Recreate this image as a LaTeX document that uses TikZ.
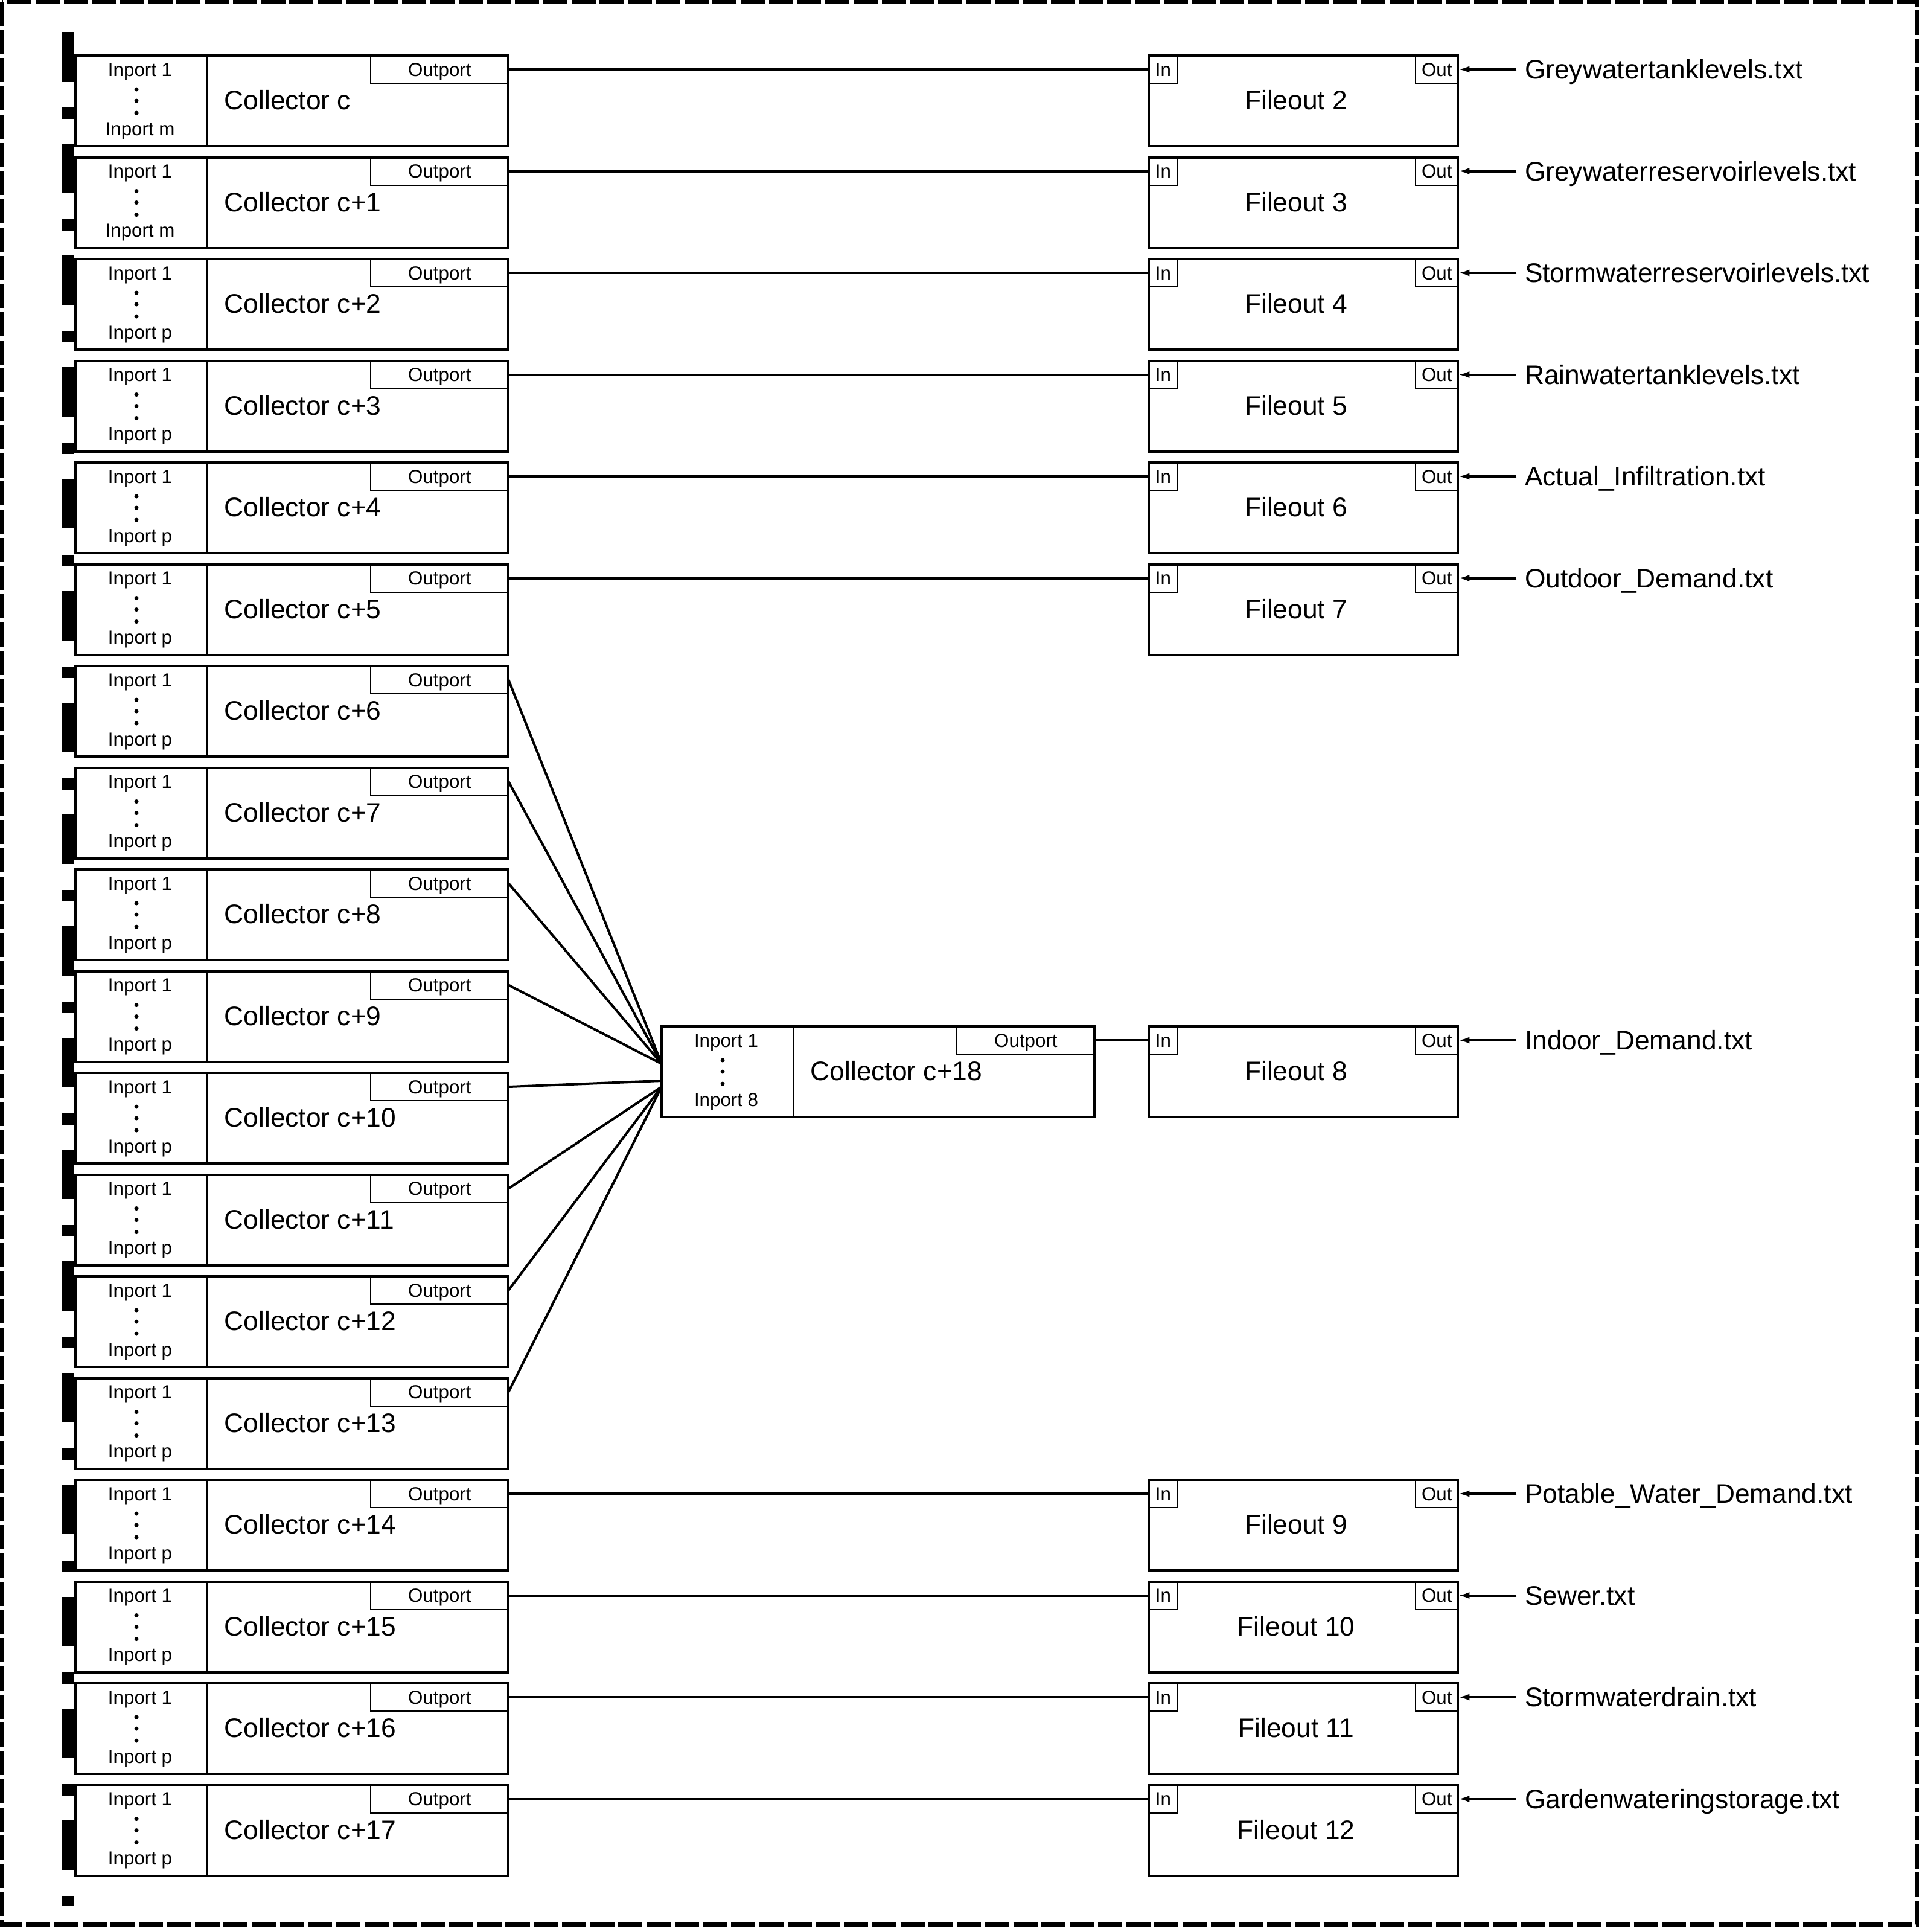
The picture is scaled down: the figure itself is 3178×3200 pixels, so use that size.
\documentclass[tikz,border=0pt]{standalone}
\usepackage{fontspec}
\setmainfont{Liberation Sans}
\usetikzlibrary{arrows.meta}
\usetikzlibrary{positioning}

\begin{document}
\begin{tikzpicture}[x=0.01cm, y=-0.01cm,
                smalltxt/.style={font=\fontsize{8.9}{10.5}\selectfont,
                    text height=0.224cm, text depth=0pt, inner sep=0pt},
                bigtxt/.style={font=\fontsize{12.6}{15}\selectfont,
                    text height=0.317cm, text depth=0pt, inner sep=0pt},
                blk/.style={draw, line width=0.04cm, rectangle,
                    minimum width=7.17cm, minimum height=1.5cm,
                    inner sep=0pt, outer sep=0pt, anchor=north west},
                fobox/.style={blk, minimum width=5.12cm},
                portbox/.style n args={2}{draw, line width=0.02cm, rectangle,
                    minimum width=#1, minimum height=0.46cm,
                    outer sep=0pt, anchor=#2, smalltxt},
                fname/.style={bigtxt, anchor=west, inner xsep=0.13cm},
                divline/.style={line width=0.02cm},
                wire/.style={line width=0.04cm}]
                \useasboundingbox (0,0) rectangle (3178,3200);
                \draw[line width=0.07cm, dash pattern=on 0.4cm off 0.067cm] (3,3) rectangle (3175,3187);
                \draw[line width=0.2cm, dash pattern=on 0.82cm off 0.43cm on 0.19cm off 0.41cm] (113,53) -- (113,3157);
                % collectors
                \foreach \i in {0,...,18}{
                    \ifnum\i=18
                        \def\colx{1096}\def\coly{1700}\def\lastin{8}
                    \else
                        \pgfmathsetmacro\coly{92+168.5*\i}\def\colx{125}
                        \ifnum\i<2 \def\lastin{m}\else\def\lastin{p}\fi
                    \fi
                    \ifnum\i=0 \def\colname{c}\else\def\colname{c+\i}\fi
                    \node[blk] (col\i) at (\colx,\coly) {};
                    \draw[divline] ([xshift=2.18cm]col\i.north west) -- ([xshift=2.18cm]col\i.south west);
                    \node[portbox={2.28cm}{north east}] (op\i) at (col\i.north east) {Outport};
                    \node[smalltxt] (ia\i) at ([xshift=1.07cm,yshift=-0.23cm]col\i.north west) {Inport 1};
                    \node[smalltxt] (ib\i) at ([xshift=1.07cm,yshift=-1.21cm]col\i.north west) {Inport \lastin};
                    \node[bigtxt, anchor=west] (ct\i) at ([xshift=2.46cm,yshift=-0.74cm]col\i.north west) {Collector \colname};
                    \foreach \d in {0.56,0.75,0.95}
                        \fill ([xshift=1.01cm,yshift=-\d cm]col\i.north west) circle (0.035cm);
                }
                % fileouts
                \foreach \num/\ytop/\src/\file in {2/92/op0/Greywatertanklevels.txt,
                    3/260.5/op1/Greywaterreservoirlevels.txt,
                    4/429/op2/Stormwaterreservoirlevels.txt,
                    5/597.5/op3/Rainwatertanklevels.txt,
                    6/766/op4/Actual\_Infiltration.txt,
                    7/934.5/op5/Outdoor\_Demand.txt,
                    8/1700/op18/Indoor\_Demand.txt,
                    9/2451/op14/Potable\_Water\_Demand.txt,
                    10/2619.5/op15/Sewer.txt,
                    11/2788/op16/Stormwaterdrain.txt,
                    12/2956.5/op17/Gardenwateringstorage.txt}{
                    \node[fobox] (fo\num) at (1903,\ytop) {};
                    \node[portbox={0.48cm}{north west}] (in\num) at (fo\num.north west) {In};
                    \node[portbox={0.70cm}{north east}] (out\num) at (fo\num.north east) {Out};
                    \node[bigtxt] (ft\num) at ([xshift=2.44cm,yshift=-0.74cm]fo\num.north west) {Fileout \num};
                    \node[fname] (lbl\num) at ([xshift=0.97cm]out\num.east) {\file};
                    \draw[wire] (\src.east) -- (in\num.west);
                    \draw[wire, -{Latex[length=0.19cm,width=0.11cm]}] (lbl\num.west) -- (out\num.east);
                }
                % inputs of collector c+18
                \coordinate (jA) at (1096,1762);
                \coordinate (jB) at (1096,1790);
                \coordinate (jC) at (1096,1800);
                \foreach \i/\j in {6/jA,7/jA,8/jA,9/jA,10/jB,11/jC,12/jC,13/jC}
                    \draw[wire] (op\i.east) -- (\j);
            \end{tikzpicture}
\end{document}
